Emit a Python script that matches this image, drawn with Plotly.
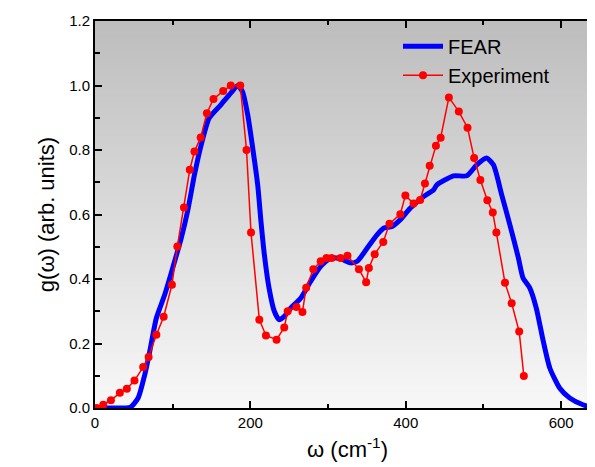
import plotly.graph_objects as go

# FEAR (calculated) curve
fear_w = [0, 20, 40, 46, 55.5, 64, 70.5, 79, 89.7, 100, 111, 119.6, 128, 136.7, 147, 162, 175,
          183.7, 190, 196.5, 203, 209.4, 213.6, 218, 224, 230.8, 237, 243.6, 252, 265, 277.7,
          290.5, 303.3, 316, 329, 337.6, 350.4, 363, 371.8, 382.4, 393, 406, 423, 436, 440,
          461.5, 478.6, 491.4, 504, 512.8, 523.5, 534, 545, 551, 559.7, 568, 577, 585.4, 598,
          611, 628, 645, 650]
fear_g = [0, 0, 0, 0.003, 0.031, 0.103, 0.176, 0.279, 0.351, 0.434, 0.527, 0.615, 0.723, 0.816,
          0.899, 0.94, 0.977, 1.0, 0.98, 0.91, 0.806, 0.692, 0.579, 0.475, 0.372, 0.3, 0.274,
          0.284, 0.31, 0.341, 0.393, 0.439, 0.465, 0.463, 0.45, 0.455, 0.496, 0.537, 0.558,
          0.563, 0.584, 0.62, 0.656, 0.677, 0.692, 0.72, 0.72, 0.754, 0.775, 0.754, 0.661,
          0.568, 0.465, 0.403, 0.372, 0.31, 0.207, 0.124, 0.062, 0.031, 0.01, 0, 0]

# Experimental points
exp_w = [2, 10.6, 20.5, 32, 41, 50.8, 62, 69, 79, 88.4, 99, 106, 114.5, 122, 128, 136, 144,
         152.5, 165, 174.7, 187, 195, 200.8, 211.5, 220, 233.7, 243.6, 248, 259.4, 267, 271.8,
         281, 290.5, 298, 304.6, 316, 325, 339.7, 349, 352.5, 360, 371, 379, 393, 399.5, 410,
         418.5, 424.7, 430.8, 438.8, 444.9, 455.5, 468.3, 479.5, 488, 496, 505, 512, 516.6,
         527.7, 536.3, 546, 552]
exp_g = [0.0, 0.01, 0.024, 0.047, 0.06, 0.085, 0.127, 0.158, 0.227, 0.283, 0.382, 0.501, 0.622,
         0.739, 0.795, 0.839, 0.914, 0.958, 0.983, 1.0, 1.0, 0.8, 0.544, 0.274, 0.225, 0.212,
         0.25, 0.3, 0.313, 0.298, 0.373, 0.43, 0.455, 0.465, 0.465, 0.465, 0.472, 0.43, 0.39,
         0.434, 0.477, 0.515, 0.571, 0.601, 0.659, 0.634, 0.645, 0.696, 0.751, 0.813, 0.838,
         0.963, 0.919, 0.869, 0.775, 0.707, 0.644, 0.606, 0.544, 0.388, 0.325, 0.237, 0.099]

x_ticks = [0, 200, 400, 600]
y_ticks = [0.0, 0.2, 0.4, 0.6, 0.8, 1.0, 1.2]

FONT = "Liberation Sans, Arial, sans-serif"

fig = go.Figure()

# gradient background
fig.add_trace(go.Heatmap(
    x=[0, 650], y=[0, 1.2], z=[[0, 0], [1, 1]],
    colorscale=[[0, "#f8f8f8"], [1, "#bdbdbd"]],
    zsmooth="best", showscale=False, hoverinfo="skip", showlegend=False,
))

fig.add_trace(go.Scatter(
    x=fear_w, y=fear_g, mode="lines", name="FEAR",
    line=dict(color="#0000ff", width=5, shape="spline", smoothing=0.6),
))
fig.add_trace(go.Scatter(
    x=exp_w, y=exp_g, mode="lines+markers", name="Experiment",
    line=dict(color="#ff0000", width=1.5),
    marker=dict(color="#ff0000", size=8),
))

axis_common = dict(
    showline=True, linecolor="black", linewidth=2, mirror="allticks",
    ticks="inside", tickcolor="black", tickwidth=1.5, ticklen=7,
    showgrid=False, zeroline=False,
    tickfont=dict(family=FONT, size=15, color="black"),
)

fig.update_xaxes(
    range=[0, 650], tickvals=x_ticks, ticktext=[str(v) for v in x_ticks],
    minor=dict(dtick=100, tick0=0, ticks="inside", ticklen=4, tickcolor="black", tickwidth=1.5),
    title=dict(text="ω (cm<sup>-1</sup>)", font=dict(family=FONT, size=22, color="black"), standoff=12),
    **axis_common,
)
fig.update_yaxes(
    range=[0, 1.2], tickvals=y_ticks, ticktext=[f"{v:.1f}" for v in y_ticks],
    minor=dict(dtick=0.1, tick0=0, ticks="inside", ticklen=5, tickcolor="black", tickwidth=1.5),
    title=dict(text="g(ω) (arb. units)", font=dict(family=FONT, size=22, color="black"), standoff=8),
    **axis_common,
)

fig.update_layout(
    width=595, height=467,
    margin=dict(l=87, r=1, t=13, b=67),
    paper_bgcolor="white", plot_bgcolor="#dddddd",
    showlegend=True,
    legend=dict(x=0.6, y=0.985, xanchor="left", yanchor="top",
                bgcolor="rgba(0,0,0,0)", font=dict(family=FONT, size=20, color="black"),
                tracegroupgap=0, itemwidth=40),
)

fig.write_html("out.html")
